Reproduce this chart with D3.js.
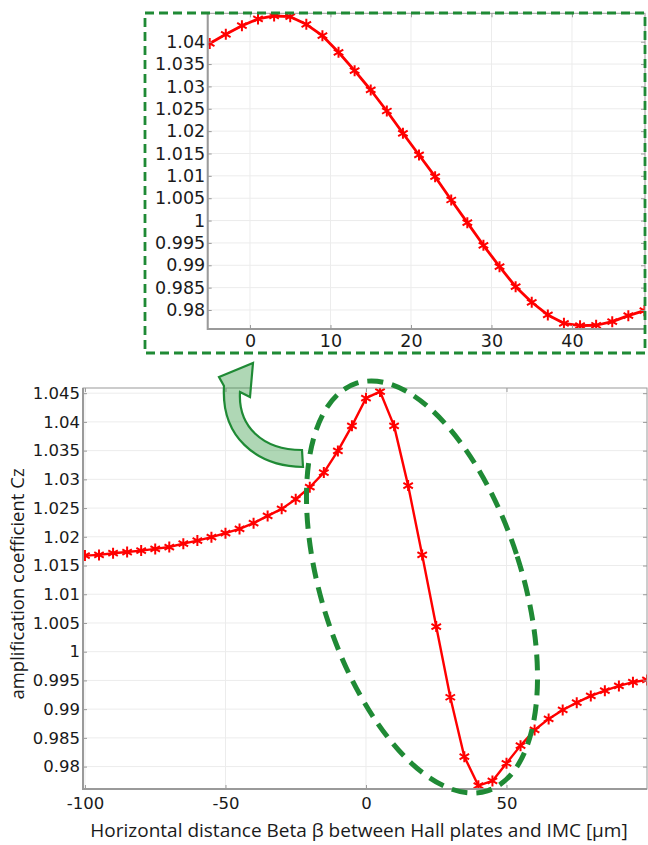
<!DOCTYPE html>
<html>
<head>
<meta charset="utf-8">
<script src="https://cdn.jsdelivr.net/npm/d3@7"></script>
<style>
  body { margin: 0; background: #fff; }
  svg { display: block; }
</style>
</head>
<body>
<svg id="chart" width="648" height="845"></svg>
<script>
// ---- Data: amplification coefficient Cz versus horizontal distance Beta (µm) ----
const betaFull = [-100, -95, -90, -85, -80, -75, -70, -65, -60, -55, -50, -45, -40, -35, -30, -25, -20,
                  -15, -10, -5, 0, 5, 10, 15, 20, 25, 30, 35, 40, 45, 50, 55, 60, 65, 70, 75, 80, 85, 90, 95, 100];
const czFull = [1.01673, 1.01685, 1.01714, 1.01735, 1.01760, 1.01789, 1.01822, 1.01880, 1.01934, 1.01993,
                1.02063, 1.02137, 1.02237, 1.02364, 1.02486, 1.02655, 1.02863,
                1.03118, 1.03495, 1.03931, 1.04413, 1.04528, 1.03931, 1.02891, 1.01685, 1.00437, 0.99207,
                0.98173, 0.97668, 0.97750, 0.98058, 0.98365, 0.98638, 0.98830, 0.98986, 0.99113, 0.99230,
                0.99322, 0.99404, 0.99469, 0.99509];

// Zoomed sweep around the IMC edge
const betaZoom = [-5, -3, -1, 1, 3, 5, 7, 9, 11, 13, 15, 17, 19, 21, 23, 25, 27, 29, 31, 33, 35, 37, 39, 41, 43, 45, 47, 49];
const czZoom = [1.03960, 1.04165, 1.04358, 1.04508, 1.04575, 1.04559, 1.04389, 1.04134, 1.03763, 1.03352,
                1.02920, 1.02450, 1.01952, 1.01467, 1.00981, 1.00460, 0.99953, 0.99447, 0.98969, 0.98522,
                0.98173, 0.97889, 0.97703, 0.97650, 0.97659, 0.97739, 0.97874, 0.97985];

// Tick values and their labels
const fullXTicks = [-100, -50, 0, 50];
const fullXLabels = ["-100", "-50", "0", "50"];
const fullYTicks = [0.98, 0.985, 0.99, 0.995, 1, 1.005, 1.01, 1.015, 1.02, 1.025, 1.03, 1.035, 1.04, 1.045];
const fullYLabels = ["0.98", "0.985", "0.99", "0.995", "1", "1.005", "1.01", "1.015", "1.02", "1.025", "1.03", "1.035", "1.04", "1.045"];
const zoomXTicks = [0, 10, 20, 30, 40];
const zoomXLabels = ["0", "10", "20", "30", "40"];
const zoomYTicks = [0.98, 0.985, 0.99, 0.995, 1, 1.005, 1.01, 1.015, 1.02, 1.025, 1.03, 1.035, 1.04];
const zoomYLabels = ["0.98", "0.985", "0.99", "0.995", "1", "1.005", "1.01", "1.015", "1.02", "1.025", "1.03", "1.035", "1.04"];

const xTitle = "Horizontal distance Beta β between Hall plates and IMC [µm]";
const yTitle = "amplification coefficient Cz";

// ---- Styling ----
const RED = "#ff0000";
const GREEN = "#1f8a35";
const AXIS = "#9a9a9a";
const GRID = "#ececec";
const TICK_FONT = "DejaVu Sans, sans-serif";
const TITLE_FONT = "'Open Sans', sans-serif";

const svg = d3.select("#chart");

// Six-armed asterisk marker
function asterisk(r) {
  const c = Math.cos(Math.PI / 6) * r, s = Math.sin(Math.PI / 6) * r;
  return `M0,${-r}V${r}M${-c},${-s}L${c},${s}M${-c},${s}L${c},${-s}`;
}

function drawPanel(g, box, xs, ys, cfg) {
  const W = box.right - box.left, H = box.bottom - box.top;

  // grid
  g.append("g").selectAll("line").data(cfg.xTicks).join("line")
    .attr("x1", d => xs(d)).attr("x2", d => xs(d))
    .attr("y1", box.top).attr("y2", box.bottom)
    .attr("stroke", GRID).attr("stroke-width", 1);
  g.append("g").selectAll("line").data(cfg.yTicks).join("line")
    .attr("x1", box.left).attr("x2", box.right)
    .attr("y1", d => ys(d)).attr("y2", d => ys(d))
    .attr("stroke", GRID).attr("stroke-width", 1);

  // data line + markers, clipped to the plot area
  const clipId = "clip-" + cfg.id;
  svg.append("clipPath").attr("id", clipId).append("rect")
    .attr("x", box.left).attr("y", box.top).attr("width", W).attr("height", H);
  const pts = cfg.xVals.map((v, i) => [v, cfg.yVals[i]]);
  const plot = g.append("g").attr("clip-path", `url(#${clipId})`);
  plot.append("path").datum(pts)
    .attr("fill", "none").attr("stroke", RED).attr("stroke-width", cfg.lineW)
    .attr("stroke-linejoin", "round")
    .attr("d", d3.line().x(d => xs(d[0])).y(d => ys(d[1])));
  plot.append("g").selectAll("path").data(pts).join("path")
    .attr("transform", d => `translate(${xs(d[0])},${ys(d[1])})`)
    .attr("d", asterisk(cfg.markR))
    .attr("fill", "none").attr("stroke", RED).attr("stroke-width", 2);

  // axes (ticks point inward on all four sides)
  const left = g.append("g").attr("transform", `translate(${box.left},0)`)
    .call(d3.axisLeft(ys).tickValues(cfg.yTicks).tickFormat(v => cfg.yLabels[cfg.yTicks.indexOf(v)])
      .tickSize(-4).tickPadding(cfg.yPad));
  const bottom = g.append("g").attr("transform", `translate(0,${box.bottom})`)
    .call(d3.axisBottom(xs).tickValues(cfg.xTicks).tickFormat(v => cfg.xLabels[cfg.xTicks.indexOf(v)])
      .tickSize(-4).tickPadding(cfg.xPad));
  const top = g.append("g").attr("transform", `translate(0,${box.top})`)
    .call(d3.axisTop(xs).tickValues(cfg.xTicks).tickFormat("").tickSize(-4));
  const right = g.append("g").attr("transform", `translate(${box.right},0)`)
    .call(d3.axisRight(ys).tickValues(cfg.yTicks).tickFormat("").tickSize(-4));
  [left, bottom, top, right].forEach(a => {
    a.select(".domain").remove();
    a.selectAll(".tick line").attr("stroke", AXIS);
    a.selectAll("text").attr("fill", "#1a1a1a")
      .style("font-family", TICK_FONT).style("font-size", cfg.fontSize + "px");
  });

  // frame
  g.append("rect").attr("x", box.left).attr("y", box.top).attr("width", W).attr("height", H)
    .attr("fill", "none").attr("stroke", AXIS).attr("stroke-width", 1);
  g.append("path")
    .attr("d", `M${box.left},${box.top}V${box.bottom}H${box.right}`)
    .attr("fill", "none").attr("stroke", AXIS).attr("stroke-width", 2);
}

// ---- Full sweep ----
const fullBox = { left: 83, right: 647, top: 388, bottom: 789 };
const xFull = d3.scaleLinear().domain([-100.7, 100]).range([fullBox.left, fullBox.right]);
const yFull = d3.scaleLinear().domain([0.9761, 1.0459]).range([fullBox.bottom, fullBox.top]);
drawPanel(svg.append("g"), fullBox, xFull, yFull, {
  id: "full", xTicks: fullXTicks, xLabels: fullXLabels, yTicks: fullYTicks, yLabels: fullYLabels,
  fontSize: 16.5, xPad: 8, yPad: 3, xVals: betaFull, yVals: czFull, lineW: 2.4, markR: 5.5
});

// ---- Zoomed inset ----
const zoomBox = { left: 207.7, right: 645, top: 13.3, bottom: 329 };
const xZoom = d3.scaleLinear().domain([-5.25, 49.07]).range([zoomBox.left, zoomBox.right]);
const yZoom = d3.scaleLinear().domain([0.97575, 1.04635]).range([zoomBox.bottom, zoomBox.top]);
drawPanel(svg.append("g"), zoomBox, xZoom, yZoom, {
  id: "zoom", xTicks: zoomXTicks, xLabels: zoomXLabels, yTicks: zoomYTicks, yLabels: zoomYLabels,
  fontSize: 17.5, xPad: 6, yPad: 2.5, xVals: betaZoom, yVals: czZoom, lineW: 2.8, markR: 5.5
});

// ---- Axis titles ----
svg.append("text")
  .attr("x", 359).attr("y", 837)
  .attr("text-anchor", "middle")
  .style("font-family", TITLE_FONT).style("font-size", "19px").attr("fill", "#1a1a1a")
  .text(xTitle);
svg.append("text")
  .attr("transform", "translate(24,584) rotate(-90)")
  .attr("text-anchor", "middle")
  .style("font-family", TITLE_FONT).style("font-size", "18.5px").attr("fill", "#1a1a1a")
  .text(yTitle);

// ---- Annotations: inset frame, highlighted region, pointer arrow ----
svg.append("rect")
  .attr("x", 145).attr("y", 13).attr("width", 500).attr("height", 340)
  .attr("fill", "none").attr("stroke", GREEN).attr("stroke-width", 2.8)
  .attr("stroke-dasharray", "9,5");

svg.append("ellipse")
  .attr("transform", "translate(422,587) rotate(-17.8)")
  .attr("rx", 100).attr("ry", 214)
  .attr("fill", "none").attr("stroke", GREEN).attr("stroke-width", 5)
  .attr("stroke-dasharray", "16,9");

svg.append("path")
  .attr("d", "M303,467 C255,466 221,436 224,386 L219,377 L253,363 L250,397 L240,392 C238,426 262,450 302,450 Z")
  .attr("fill", "rgba(46,150,60,0.38)")
  .attr("stroke", GREEN).attr("stroke-width", 2.2).attr("stroke-linejoin", "miter");
</script>
</body>
</html>
